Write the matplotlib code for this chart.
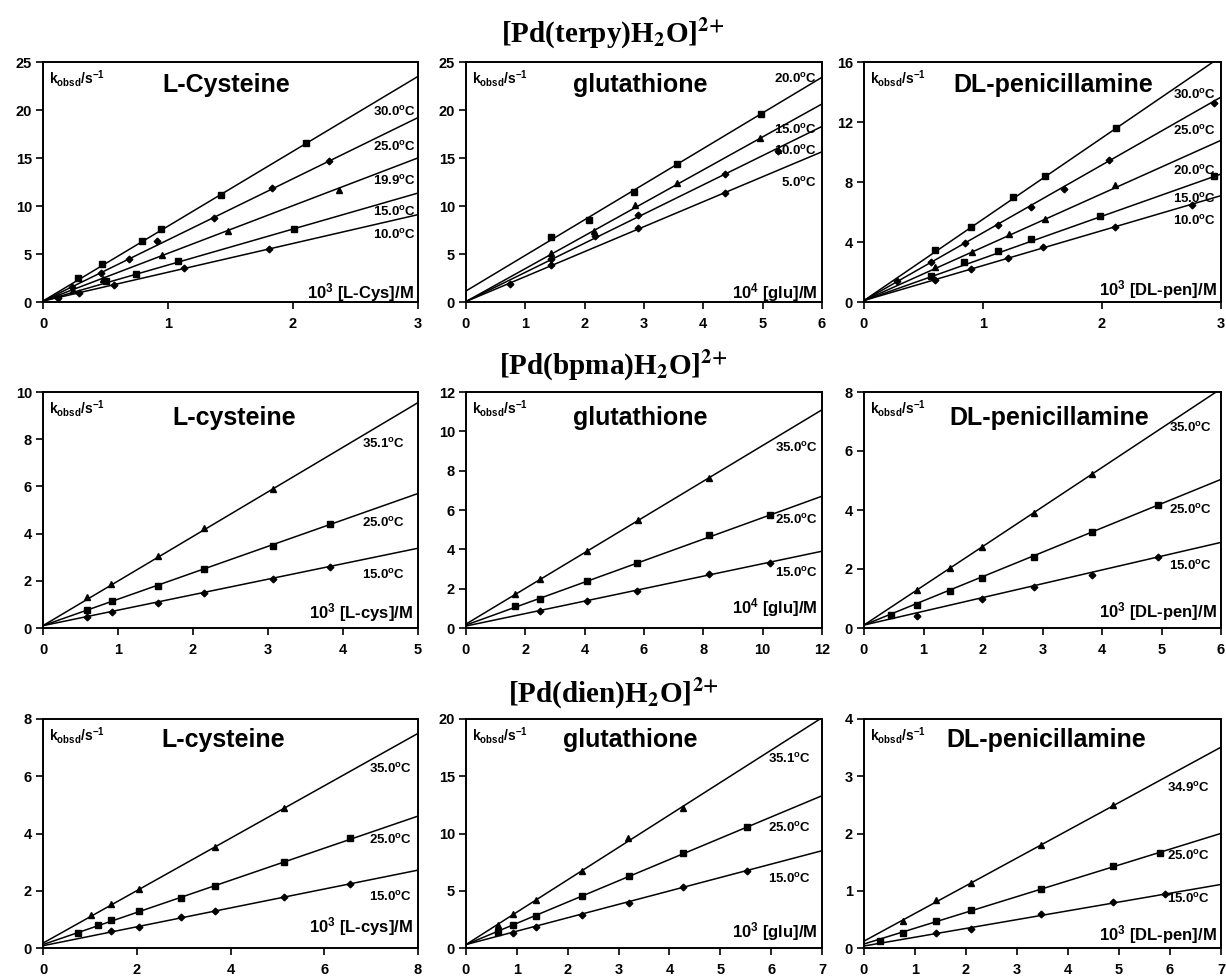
import matplotlib
matplotlib.use('Agg')
import matplotlib.pyplot as plt
import matplotlib.transforms as mtransforms
import numpy as np

plt.rcParams.update({
    'font.family': ['Liberation Sans', 'DejaVu Sans'],
    'font.weight': 'bold',
    'mathtext.fontset': 'custom',
    'mathtext.rm': 'Liberation Sans:bold',
    'mathtext.bf': 'Liberation Sans:bold',
    'mathtext.it': 'Liberation Sans:italic:bold',
    'mathtext.sf': 'Liberation Sans:bold',
    'axes.linewidth': 1.4,
})

# ---------------- Row 1: [Pd(terpy)H2O]2+ ----------------
terpy_cys_temps = ['30.0', '25.0', '19.9', '15.0', '10.0']
terpy_cys_x = [[0.28, 0.47, 0.79, 0.945, 1.42, 2.10],
               [0.23, 0.46, 0.69, 0.915, 1.37, 1.83, 2.29],
               [0.24, 0.48, 0.95, 1.48, 2.37],
               [0.50, 0.74, 1.08, 2.01],
               [0.12, 0.285, 0.57, 1.13, 1.81]]
terpy_cys_y = [[2.5, 3.99, 6.32, 7.64, 11.1, 16.56],
               [1.56, 3.06, 4.51, 6.32, 8.75, 11.9, 14.65],
               [1.3, 2.4, 4.9, 7.4, 11.7],
               [2.2, 2.95, 4.24, 7.64],
               [0.42, 0.94, 1.8, 3.54, 5.56]]
terpy_cys_slope = [7.8, 6.37, 4.97, 3.75, 3.0]
terpy_cys_icpt = [0.1, 0.1, 0.1, 0.1, 0.1]
terpy_cys_laby = [19.8, 16.2, 12.6, 9.4, 7.0]

terpy_glu_temps = ['20.0', '15.0', '10.0', '5.0']
terpy_glu_x = [[1.43, 2.08, 2.83, 3.55, 4.98],
               [1.43, 2.15, 2.85, 3.55, 4.96],
               [1.44, 2.18, 2.90, 4.37, 5.25],
               [0.74, 1.44, 2.90, 4.37]]
terpy_glu_y = [[6.76, 8.5, 11.5, 14.4, 19.6],
               [5.1, 7.4, 10.1, 12.4, 17.1],
               [4.47, 6.87, 9.08, 13.3, 15.7],
               [1.83, 3.87, 7.68, 11.4]]
terpy_glu_slope = [3.71, 3.43, 3.04, 2.6]
terpy_glu_icpt = [1.15, 0.05, 0.05, 0.05]
terpy_glu_laby = [23.2, 17.9, 15.7, 12.4]

terpy_pen_temps = ['30.0', '25.0', '20.0', '15.0', '10.0']
terpy_pen_x = [[0.60, 0.90, 1.25, 1.52, 2.12],
               [0.28, 0.56, 0.85, 1.13, 1.40, 1.68, 2.06, 2.94],
               [0.60, 0.91, 1.22, 1.52, 2.11],
               [0.56, 0.84, 1.13, 1.40, 1.98, 2.94],
               [0.60, 0.90, 1.21, 1.50, 2.11, 2.76]]
terpy_pen_y = [[3.49, 5.0, 7.0, 8.38, 11.57],
               [1.41, 2.64, 3.94, 5.15, 6.33, 7.54, 9.48, 13.3],
               [2.32, 3.33, 4.56, 5.54, 7.77],
               [1.71, 2.64, 3.37, 4.17, 5.76, 8.38],
               [1.5, 2.23, 2.92, 3.64, 4.97, 6.49]]
terpy_pen_slope = [5.42, 4.52, 3.56, 2.81, 2.33]
terpy_pen_icpt = [0.1, 0.1, 0.1, 0.1, 0.1]
terpy_pen_laby = [13.8, 11.4, 8.77, 6.9, 5.4]

# ---------------- Row 2: [Pd(bpma)H2O]2+ ----------------
bpma_cys_temps = ['35.1', '25.0', '15.0']
bpma_cys_x = [[0.59, 0.91, 1.53, 2.14, 3.07],
              [0.59, 0.92, 1.53, 2.14, 3.07, 3.83],
              [0.59, 0.92, 1.53, 2.14, 3.07, 3.83]]
bpma_cys_y = [[1.31, 1.87, 3.07, 4.23, 5.87],
              [0.77, 1.13, 1.8, 2.5, 3.49, 4.41],
              [0.45, 0.66, 1.06, 1.48, 2.07, 2.58]]
bpma_cys_slope = [1.89, 1.12, 0.656]
bpma_cys_icpt = [0.1, 0.1, 0.1]
bpma_cys_laby = [7.8, 4.46, 2.25]

bpma_glu_temps = ['35.0', '25.0', '15.0']
bpma_glu_x = [[1.66, 2.5, 4.09, 5.8, 8.18],
              [1.66, 2.5, 4.09, 5.77, 8.2, 10.24],
              [2.5, 4.09, 5.77, 8.18, 10.24]]
bpma_glu_y = [[1.72, 2.49, 3.92, 5.48, 7.65],
              [1.11, 1.5, 2.41, 3.33, 4.74, 5.73],
              [0.85, 1.37, 1.88, 2.75, 3.33]]
bpma_glu_slope = [0.908, 0.546, 0.317]
bpma_glu_icpt = [0.2, 0.15, 0.1]
bpma_glu_laby = [9.15, 5.5, 2.8]

bpma_pen_temps = ['35.0', '25.0', '15.0']
bpma_pen_x = [[0.89, 1.44, 1.98, 2.86, 3.84],
              [0.46, 0.89, 1.44, 1.98, 2.86, 3.84, 4.94],
              [0.89, 1.98, 2.86, 3.84, 4.94]]
bpma_pen_y = [[1.28, 2.03, 2.76, 3.91, 5.22],
              [0.43, 0.78, 1.25, 1.7, 2.41, 3.25, 4.17],
              [0.41, 0.99, 1.39, 1.8, 2.4]]
bpma_pen_slope = [1.335, 0.823, 0.467]
bpma_pen_icpt = [0.1, 0.1, 0.1]
bpma_pen_laby = [6.8, 4.0, 2.1]

# ---------------- Row 3: [Pd(dien)H2O]2+ ----------------
dien_cys_temps = ['35.0', '25.0', '15.0']
dien_cys_x = [[1.03, 1.46, 2.05, 3.66, 5.14],
              [0.75, 1.17, 1.46, 2.05, 2.94, 3.66, 5.14, 6.54],
              [1.46, 2.05, 2.94, 3.66, 5.14, 6.54]]
dien_cys_y = [[1.14, 1.53, 2.06, 3.54, 4.9],
              [0.54, 0.81, 0.99, 1.31, 1.76, 2.17, 2.99, 3.83],
              [0.58, 0.75, 1.07, 1.3, 1.77, 2.24]]
dien_cys_slope = [0.916, 0.561, 0.33]
dien_cys_icpt = [0.17, 0.12, 0.08]
dien_cys_laby = [6.26, 3.77, 1.8]

dien_glu_temps = ['35.1', '25.0', '15.0']
dien_glu_x = [[0.62, 0.93, 1.37, 2.29, 3.19, 4.26],
              [0.63, 0.93, 1.37, 2.29, 3.2, 4.27, 5.52],
              [0.93, 1.37, 2.29, 3.2, 4.27, 5.52]]
dien_glu_y = [[2.0, 3.0, 4.18, 6.76, 9.65, 12.2],
              [1.38, 2.0, 2.8, 4.5, 6.26, 8.3, 10.6],
              [1.32, 1.82, 2.85, 3.97, 5.35, 6.76]]
dien_glu_slope = [2.83, 1.857, 1.171]
dien_glu_icpt = [0.3, 0.3, 0.3]
dien_glu_laby = [16.5, 10.5, 6.0]

dien_pen_temps = ['34.9', '25.0', '15.0']
dien_pen_x = [[0.76, 1.41, 2.09, 3.48, 4.89],
              [0.32, 0.76, 1.41, 2.09, 3.48, 4.89, 5.81],
              [1.41, 2.09, 3.48, 4.89, 5.9]]
dien_pen_y = [[0.47, 0.83, 1.14, 1.8, 2.5],
              [0.13, 0.27, 0.47, 0.67, 1.03, 1.43, 1.66],
              [0.26, 0.34, 0.59, 0.8, 0.94]]
dien_pen_slope = [0.484, 0.276, 0.1536]
dien_pen_icpt = [0.12, 0.07, 0.035]
dien_pen_laby = [2.8, 1.61, 0.85]

# titles / labels
row_titles = [r'[Pd(terpy)H$_\mathbf{2}$O]$^{\mathbf{2}{+}}$',
              r'[Pd(bpma)H$_\mathbf{2}$O]$^{\mathbf{2}{+}}$',
              r'[Pd(dien)H$_\mathbf{2}$O]$^{\mathbf{2}{+}}$']
panel_names = [['L-Cysteine', 'glutathione', 'DL-penicillamine'],
               ['L-cysteine', 'glutathione', 'DL-penicillamine'],
               ['L-cysteine', 'glutathione', 'DL-penicillamine']]
x_labels = [[r'10$^{\mathrm{3}}$ [L-Cys]/M', r'10$^{\mathrm{4}}$ [glu]/M', r'10$^{\mathrm{3}}$ [DL-pen]/M'],
            [r'10$^{\mathrm{3}}$ [L-cys]/M', r'10$^{\mathrm{4}}$ [glu]/M', r'10$^{\mathrm{3}}$ [DL-pen]/M'],
            [r'10$^{\mathrm{3}}$ [L-cys]/M', r'10$^{\mathrm{3}}$ [glu]/M', r'10$^{\mathrm{3}}$ [DL-pen]/M']]
x_max = [[3, 6, 3], [5, 12, 6], [8, 7, 7]]
x_step = [[1, 1, 1], [1, 2, 1], [2, 1, 1]]
y_max = [[25, 25, 16], [10, 12, 8], [8, 20, 4]]
y_step = [[5, 5, 4], [2, 2, 2], [2, 5, 1]]

data = [
    [(terpy_cys_temps, terpy_cys_x, terpy_cys_y, terpy_cys_slope, terpy_cys_icpt, terpy_cys_laby),
     (terpy_glu_temps, terpy_glu_x, terpy_glu_y, terpy_glu_slope, terpy_glu_icpt, terpy_glu_laby),
     (terpy_pen_temps, terpy_pen_x, terpy_pen_y, terpy_pen_slope, terpy_pen_icpt, terpy_pen_laby)],
    [(bpma_cys_temps, bpma_cys_x, bpma_cys_y, bpma_cys_slope, bpma_cys_icpt, bpma_cys_laby),
     (bpma_glu_temps, bpma_glu_x, bpma_glu_y, bpma_glu_slope, bpma_glu_icpt, bpma_glu_laby),
     (bpma_pen_temps, bpma_pen_x, bpma_pen_y, bpma_pen_slope, bpma_pen_icpt, bpma_pen_laby)],
    [(dien_cys_temps, dien_cys_x, dien_cys_y, dien_cys_slope, dien_cys_icpt, dien_cys_laby),
     (dien_glu_temps, dien_glu_x, dien_glu_y, dien_glu_slope, dien_glu_icpt, dien_glu_laby),
     (dien_pen_temps, dien_pen_x, dien_pen_y, dien_pen_slope, dien_pen_icpt, dien_pen_laby)],
]

# ---------------- styles / layout ----------------
markers = [[['s', 'D', '^', 's', 'D'], ['s', '^', 'D', 'D'], ['s', 'D', '^', 's', 'D']],
           [['^', 's', 'D']] * 3,
           [['^', 's', 'D']] * 3]
msize = {'s': 4.3, 'D': 3.4, '^': 4.8}

W, H = 1226, 977
col_px = [(43, 418), (466, 822), (864, 1221)]
row_px = [(62, 302), (392, 628), (719, 948)]
title_xf = [[0.49, 0.49, 0.53], [0.51, 0.49, 0.52], [0.48, 0.46, 0.51]]
title_base_px = [30, 33, 28]
lab_xf = [[0.995, 0.985, 0.985], [0.965, 0.99, 0.975], [0.985, 0.97, 0.97]]
xl_base_px = [[4, 4, 7], [10, 15, 11], [16, 11, 8]]
row_title_px = [33, 365, 693]

fig = plt.figure(figsize=(W / 100, H / 100), dpi=100)

for r in range(3):
    fig.text(0.5, 1 - row_title_px[r] / H, row_titles[r], ha='center', va='center',
             fontsize=21, family='Liberation Serif', weight='bold', math_fontfamily='stix')
    top, bot = row_px[r]
    for c in range(3):
        left, right = col_px[c]
        ax = fig.add_axes([left / W, 1 - bot / H, (right - left) / W, (bot - top) / H])
        temps, xs, ys, slopes, icpts, labys = data[r][c]
        xm = x_max[r][c]
        xx = np.array([0.0, xm])
        for i in range(len(temps)):
            ax.plot(xx, icpts[i] + slopes[i] * xx, color='black', lw=1.1, zorder=2)
            m = markers[r][c][i]
            ax.plot(xs[i], ys[i], ls='none', marker=m, ms=msize[m], color='black', zorder=3)
            trans = mtransforms.blended_transform_factory(ax.transAxes, ax.transData)
            ax.text(lab_xf[r][c], labys[i], temps[i] + r'$^{\mathrm{o}}$C', transform=trans,
                    ha='right', va='center', fontsize=9.5)
        ax.set_xlim(0, xm)
        ax.set_ylim(0, y_max[r][c])
        ax.set_xticks(np.arange(0, xm + 0.001, x_step[r][c]))
        ax.set_yticks(np.arange(0, y_max[r][c] + 0.001, y_step[r][c]))
        ax.tick_params(direction='out', length=5, width=1.2, labelsize=10.5)
        ax.tick_params(axis='x', pad=6)
        ax.tick_params(axis='y', pad=3)
        hpx = bot - top
        ax.text(title_xf[r][c], 1 - title_base_px[r] / hpx, panel_names[r][c], transform=ax.transAxes,
                ha='center', va='baseline', fontsize=18)
        ax.text(0.016, 0.975, r'k$_{\mathrm{obsd}}$/s$^{\mathrm{-1}}$', transform=ax.transAxes,
                ha='left', va='top', fontsize=10)
        ax.text(0.988, xl_base_px[r][c] / hpx, x_labels[r][c], transform=ax.transAxes,
                ha='right', va='baseline', fontsize=12)

fig.savefig('out.png', dpi=100)
